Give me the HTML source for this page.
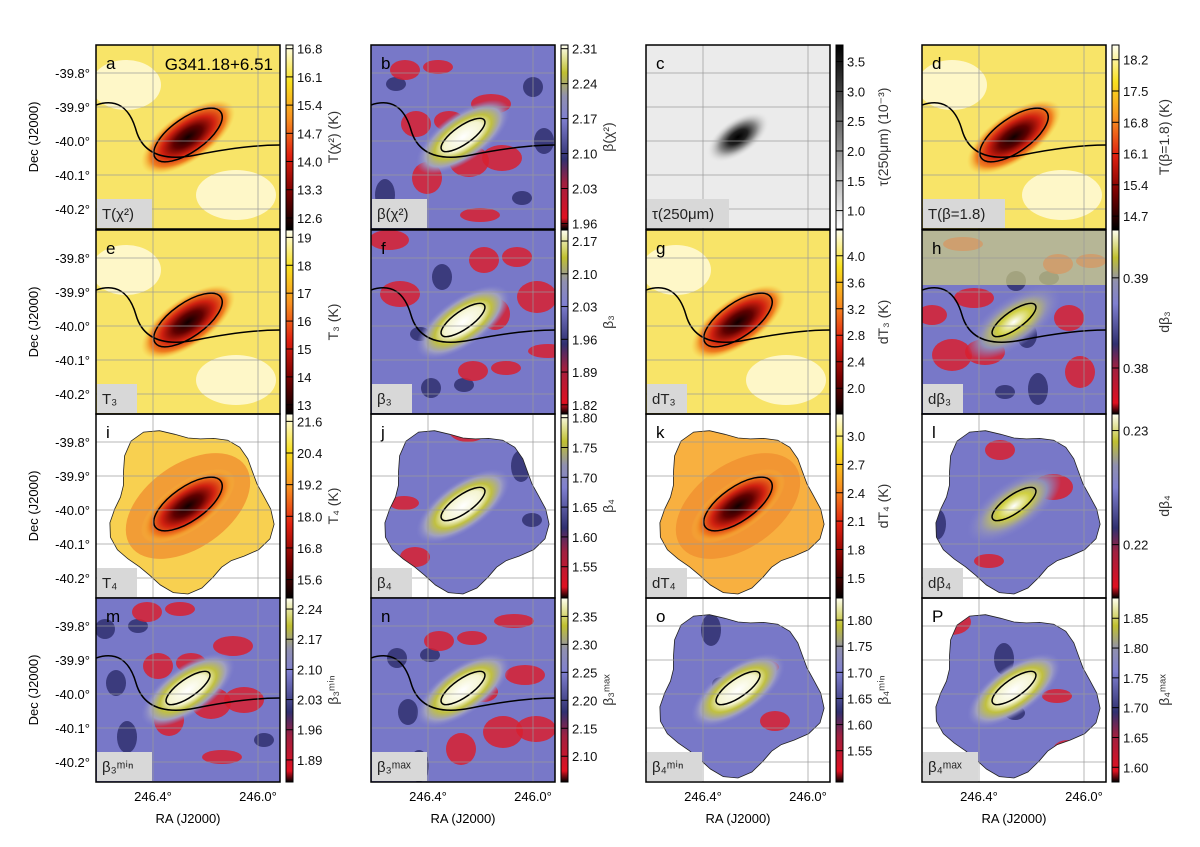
<!DOCTYPE html>
<html><head><meta charset="utf-8">
<style>
html,body{margin:0;padding:0;background:#fff;}
body{width:1200px;height:842px;overflow:hidden;font-family:"Liberation Sans",sans-serif;}
svg text{font-family:"Liberation Sans",sans-serif;}
</style></head>
<body>
<svg id="fig" width="1200" height="842" viewBox="0 0 1200 842" xmlns="http://www.w3.org/2000/svg">
<defs>
  <linearGradient id="cm-heat" x1="0" y1="1" x2="0" y2="0">
    <stop offset="0" stop-color="#000"/><stop offset="0.2" stop-color="#7a0000"/>
    <stop offset="0.4" stop-color="#e02010"/><stop offset="0.6" stop-color="#f89020"/>
    <stop offset="0.8" stop-color="#f8e020"/><stop offset="1" stop-color="#fffff0"/>
  </linearGradient>
  <linearGradient id="cm-beta" x1="0" y1="1" x2="0" y2="0">
    <stop offset="0" stop-color="#000"/><stop offset="0.06" stop-color="#e01020"/>
    <stop offset="0.25" stop-color="#a02040"/><stop offset="0.38" stop-color="#303070"/>
    <stop offset="0.6" stop-color="#8080d0"/><stop offset="0.72" stop-color="#9090b0"/>
    <stop offset="0.85" stop-color="#c0c030"/><stop offset="1" stop-color="#fffff0"/>
  </linearGradient>
  <linearGradient id="cm-grey" x1="0" y1="1" x2="0" y2="0">
    <stop offset="0" stop-color="#fff"/><stop offset="1" stop-color="#000"/>
  </linearGradient>
  <radialGradient id="core-heat">
    <stop offset="0" stop-color="#100000"/><stop offset="0.3" stop-color="#600000"/>
    <stop offset="0.55" stop-color="#d02010"/><stop offset="0.8" stop-color="#f08020"/>
    <stop offset="1" stop-color="#f8c840" stop-opacity="0"/>
  </radialGradient>
  <radialGradient id="core-beta">
    <stop offset="0" stop-color="#ffffff"/><stop offset="0.4" stop-color="#f4f4d0"/>
    <stop offset="0.6" stop-color="#c0c040"/><stop offset="0.8" stop-color="#a0a0c0"/>
    <stop offset="1" stop-color="#8080d0" stop-opacity="0"/>
  </radialGradient>
  <radialGradient id="core-grey">
    <stop offset="0" stop-color="#000"/><stop offset="0.3" stop-color="#202020"/>
    <stop offset="0.6" stop-color="#909090"/><stop offset="1" stop-color="#e8e8e8" stop-opacity="0"/>
  </radialGradient>
  <radialGradient id="core-dbeta">
    <stop offset="0" stop-color="#ffffff"/><stop offset="0.35" stop-color="#d0d040"/>
    <stop offset="0.7" stop-color="#9090b8"/><stop offset="1" stop-color="#8080d0" stop-opacity="0"/>
  </radialGradient>
</defs>
</svg>
<script>
// ---- data arrays ----
const panelLetters = ['a','b','c','d','e','f','g','h','i','j','k','l','m','n','o','P'];
const panelMaps = ['heat','beta','grey','heat','heat','beta','heat','dbeta','heat','beta','heat','dbeta','beta','beta','beta','beta'];
const tickLabels = [
 ['16.8','16.1','15.4','14.7','14.0','13.3','12.6'],
 ['2.31','2.24','2.17','2.10','2.03','1.96'],
 ['3.5','3.0','2.5','2.0','1.5','1.0'],
 ['18.2','17.5','16.8','16.1','15.4','14.7'],
 ['19','18','17','16','15','14','13'],
 ['2.17','2.10','2.03','1.96','1.89','1.82'],
 ['4.0','3.6','3.2','2.8','2.4','2.0'],
 ['0.39','0.38'],
 ['21.6','20.4','19.2','18.0','16.8','15.6'],
 ['1.80','1.75','1.70','1.65','1.60','1.55'],
 ['3.0','2.7','2.4','2.1','1.8','1.5'],
 ['0.23','0.22'],
 ['2.24','2.17','2.10','2.03','1.96','1.89'],
 ['2.35','2.30','2.25','2.20','2.15','2.10'],
 ['1.80','1.75','1.70','1.65','1.60','1.55'],
 ['1.85','1.80','1.75','1.70','1.65','1.60']
];
const tickTop = [.02,.02,.09,.08,.04,.06,.14,.26,.04,.02,.12,.09,.06,.1,.12,.11];
const tickBot = [.94,.97,.9,.93,.95,.95,.86,.75,.9,.83,.89,.71,.88,.86,.83,.92];
const cbarLabels = ['T(χ²) (K)','β(χ²)','τ(250μm) (10⁻³)','T(β=1.8) (K)','T₃ (K)','β₃','dT₃ (K)','dβ₃','T₄ (K)','β₄','dT₄ (K)','dβ₄','β₃ᵐⁱⁿ','β₃ᵐᵃˣ','β₄ᵐⁱⁿ','β₄ᵐᵃˣ'];
const boxLabels = ['T(χ²)','β(χ²)','τ(250μm)','T(β=1.8)','T₃','β₃','dT₃','dβ₃','T₄','β₄','dT₄','dβ₄','β₃ᵐⁱⁿ','β₃ᵐᵃˣ','β₄ᵐⁱⁿ','β₄ᵐᵃˣ'];
const blobPanels = [8,9,10,11,14,15];
const decTicks = ['-39.8°','-39.9°','-40.0°','-40.1°','-40.2°'];
const decValues = [-39.8,-39.9,-40.0,-40.1,-40.2];
const raTicks = ['246.4°','246.0°'];
const raValues = [246.4,246.0];

const colX=[96,371,646,922], rowY=[45,230,414,598], PW=184, PH=184;
const decY = d => 73 + (-39.8 - d)/0.1*34;
const raX = r => 57 + (246.4 - r)/0.4*105;
const NS='http://www.w3.org/2000/svg';
const svg=document.getElementById('fig');
function mk(tag,attrs,parent){const e=document.createElementNS(NS,tag);for(const k in attrs)e.setAttribute(k,attrs[k]);(parent||svg).appendChild(e);return e;}

const baseCol={heat:'#f8e468',beta:'#7878c8',grey:'#ebebeb',dbeta:'#7878c8'};
const coreId={heat:'core-heat',beta:'core-beta',grey:'core-grey',dbeta:'core-dbeta'};
const cbId={heat:'cm-heat',beta:'cm-beta',grey:'cm-grey',dbeta:'cm-beta'};

function blobPath(cx,cy,r){let d='';for(let i=0;i<36;i++){const a=i/36*2*Math.PI;const rr=r*(1+0.09*Math.sin(a*5)+0.06*Math.cos(a*3));const x=cx+rr*Math.cos(a),y=cy+rr*Math.sin(a);d+=(i?'L':'M')+x.toFixed(1)+','+y.toFixed(1);}return d+'Z';}

for(let i=0;i<16;i++){
  const c=i%4, r=Math.floor(i/4), x=colX[c], y=rowY[r], m=panelMaps[i];
  const g=mk('g',{});
  
  
  const cid='clip'+i;
  const cp=mk('clipPath',{id:cid},g);
  const isBlob=blobPanels.includes(i);
  if(isBlob) mk('path',{d:blobPath(x+92,y+95,78)},cp); else mk('rect',{x:x,y:y,width:PW,height:PH},cp);
  const mg=mk('g',{'clip-path':'url(#'+cid+')'},g);
  mk('rect',{x:x,y:y,width:PW,height:PH,fill:baseCol[m]},mg);
  if(m==='heat'&&!isBlob){
    mk('ellipse',{cx:x+30,cy:y+40,rx:35,ry:25,fill:'#fffbe0',opacity:.8},mg);
    mk('ellipse',{cx:x+140,cy:y+150,rx:40,ry:25,fill:'#fffbe0',opacity:.8},mg);
  }
  if(m==='heat'&&isBlob){
    mk('rect',{x:x,y:y,width:PW,height:PH,fill:i===8?'#f8d050':'#f8b040'},mg);
    mk('ellipse',{cx:x+92,cy:y+92,rx:70,ry:42,fill:'#f09030',opacity:.8,transform:`rotate(-35 ${x+92} ${y+92})`},mg);
  }
  if(m==='beta'||m==='dbeta'){
    const nSpots = isBlob ? 5 : 14;
    for(let k=0;k<nSpots;k++){const px=x+((k*53+i*17)%170)+8, py=y+((k*37+i*29)%165)+10;
      mk('ellipse',{cx:px,cy:py,rx:10+(k%3)*5,ry:7+(k%4)*3,fill:(k%3===0)?'#303070':'#d82030',opacity:.85},mg);}
    if(i===7){mk('rect',{x:x,y:y,width:PW,height:55,fill:'#d0d080',opacity:.7},mg);}
  }
  mk('ellipse',{cx:x+92,cy:y+92,rx:m==='grey'?36:55,ry:m==='grey'?18:24,fill:'url(#'+coreId[m]+')',transform:`rotate(-35 ${x+92} ${y+92})`},mg);
  if(m!=='grey'){
    mk('ellipse',{cx:x+92,cy:y+90,rx:m==='heat'?40:26,ry:m==='heat'?17:9,fill:'none',stroke:'#000','stroke-width':1.5,transform:`rotate(-35 ${x+92} ${y+90})`},mg);
    if(!isBlob) mk('path',{d:`M${x} ${y+60} Q${x+30} ${y+50} ${x+40} ${y+85} T${x+100} ${y+110} T${x+184} ${y+100}`,fill:'none',stroke:'#000','stroke-width':1.5},mg);
  }
  if(isBlob) mk('path',{d:blobPath(x+92,y+95,78),fill:'none',stroke:'#222','stroke-width':.8},g);
  decValues.forEach(d=>mk('line',{x1:x,x2:x+PW,y1:y+decY(d)-45,y2:y+decY(d)-45,stroke:'#999','stroke-width':1,opacity:.7},g));
  raValues.forEach(v=>mk('line',{x1:x+raX(v),x2:x+raX(v),y1:y,y2:y+PH,stroke:'#999','stroke-width':1,opacity:.7},g));
  mk('rect',{x:x,y:y,width:PW,height:PH,fill:'none',stroke:'#000','stroke-width':1.5},g);
  const lt=mk('text',{x:x+10,y:y+24,'font-size':17,'font-family':'Liberation Serif'},g);lt.textContent=panelLetters[i];
  
  const bw=Math.max(40,boxLabels[i].length*9+10);
  const bx=mk('rect',{x:x+1,y:y+PH-30,width:bw,height:29,fill:'#d8d8d8'},g);
  
  const bt=mk('text',{x:x+6,y:y+PH-10,'font-size':15,'font-family':'Liberation Serif',fill:'#222'},g);bt.textContent=boxLabels[i];
  const cbx=x+PW+6;
  const cb=mk('rect',{x:cbx,y:y,width:7,height:PH,fill:'url(#'+cbId[m]+')',stroke:'#000','stroke-width':1},g);
  
  const tl=tickLabels[i], n=tl.length;
  tl.forEach((t,k)=>{const fy=y+PH*(tickTop[i]+(tickBot[i]-tickTop[i])*(n>1?k/(n-1):0));
    mk('line',{x1:cbx,x2:cbx+7,y1:fy,y2:fy,stroke:'#000','stroke-width':1},g);
    const tt=mk('text',{x:cbx+11,y:fy+5,'font-size':13,fill:'#111'},g);tt.textContent=t;
    });
  const lx=cbx+(i%4===3?57:52), ly=y+PH/2;
  const cl=mk('text',{x:lx,y:ly,'font-size':14,'font-family':'Liberation Serif','text-anchor':'middle',fill:'#333',transform:`rotate(-90 ${lx} ${ly})`},g);cl.textContent=cbarLabels[i];
  
  if(c===0){
    decValues.forEach((d,k)=>{const t=mk('text',{x:x-6,y:y+decY(d)-45+5,'font-size':13,'text-anchor':'end'},g);t.textContent=decTicks[k];
      });
    const yl=mk('text',{x:38,y:y+PH/2,'font-size':13,'text-anchor':'middle',transform:`rotate(-90 38 ${y+PH/2})`},g);yl.textContent='Dec (J2000)';
    
  }
  if(r===3){
    raValues.forEach((v,k)=>{const t=mk('text',{x:x+raX(v),y:y+PH+19,'font-size':13,'text-anchor':'middle'},g);t.textContent=raTicks[k];
      });
    const xl=mk('text',{x:x+PW/2,y:y+PH+41,'font-size':13,'text-anchor':'middle'},g);xl.textContent='RA (J2000)';
    
  }
}
const st=mk('text',{x:273,y:70,'font-size':17,'text-anchor':'end'});st.textContent='G341.18+6.51';

</script>
</body></html>
